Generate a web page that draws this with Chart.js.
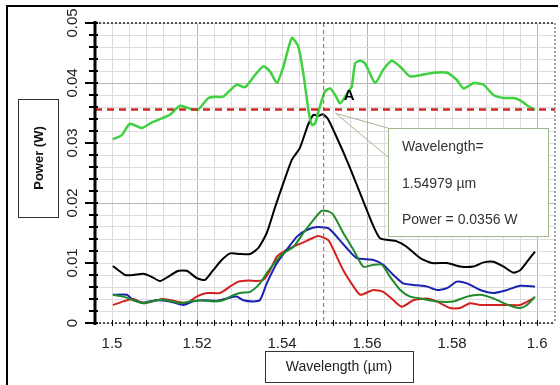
<!DOCTYPE html>
<html>
<head>
<meta charset="utf-8">
<script src="https://cdn.jsdelivr.net/npm/chart.js@4.4.0/dist/chart.umd.min.js"></script>
<style>
  html, body { margin: 0; padding: 0; background: #fff; }
  canvas { display: block; }
</style>
</head>
<body>
<canvas id="chart" width="560" height="385"></canvas>
<script>
// tick labels
const xLabels = [1.5, 1.52, 1.54, 1.56, 1.58, 1.6];
const yLabels = [0, 0.01, 0.02, 0.03, 0.04, 0.05];

// marked point (A)
const markWavelength = 1.54979;
const markPower = 0.0356;

// series: [wavelength (um), power (W)]
const greenSeries = [[1.5002,0.0306],[1.5023,0.0313],[1.5042,0.0332],[1.5070,0.0325],[1.5093,0.0334],[1.5117,0.0341],[1.5136,0.0347],[1.5160,0.0362],[1.5188,0.0356],[1.5203,0.0356],[1.5227,0.0375],[1.5246,0.0377],[1.5261,0.0377],[1.5293,0.0397],[1.5313,0.0393],[1.5336,0.0413],[1.5356,0.0428],[1.5372,0.0419],[1.5388,0.0400],[1.5403,0.0427],[1.5423,0.0475],[1.5438,0.0461],[1.5450,0.0416],[1.5462,0.0355],[1.5470,0.0330],[1.5478,0.0333],[1.5489,0.0361],[1.5501,0.0386],[1.5513,0.0391],[1.5525,0.0380],[1.5536,0.0366],[1.5544,0.0372],[1.5556,0.0386],[1.5564,0.0394],[1.5572,0.0433],[1.5584,0.0437],[1.5595,0.0433],[1.5619,0.0400],[1.5638,0.0422],[1.5658,0.0437],[1.5678,0.0427],[1.5701,0.0411],[1.5725,0.0413],[1.5756,0.0417],[1.5788,0.0417],[1.5811,0.0405],[1.5827,0.0391],[1.5851,0.0400],[1.5874,0.0397],[1.5897,0.0380],[1.5921,0.0375],[1.5944,0.0375],[1.5960,0.0371],[1.5976,0.0363],[1.5995,0.0355]];

const blackSeries = [[1.5002,0.0095],[1.5015,0.0088],[1.5031,0.0080],[1.5050,0.0080],[1.5074,0.0082],[1.5093,0.0077],[1.5113,0.0070],[1.5132,0.0077],[1.5156,0.0087],[1.5176,0.0087],[1.5199,0.0075],[1.5219,0.0072],[1.5238,0.0088],[1.5258,0.0105],[1.5278,0.0116],[1.5301,0.0115],[1.5325,0.0115],[1.5344,0.0125],[1.5364,0.0150],[1.5384,0.0194],[1.5403,0.0233],[1.5423,0.0272],[1.5442,0.0292],[1.5461,0.0330],[1.5474,0.0347],[1.5485,0.0345],[1.5496,0.0348],[1.5508,0.0340],[1.5525,0.0315],[1.5544,0.0285],[1.5560,0.0258],[1.5591,0.0203],[1.5615,0.0161],[1.5631,0.0141],[1.5670,0.0136],[1.5693,0.0127],[1.5725,0.0108],[1.5752,0.0100],[1.5788,0.0100],[1.5819,0.0094],[1.5850,0.0094],[1.5874,0.0101],[1.5897,0.0102],[1.5921,0.0094],[1.5944,0.0084],[1.5960,0.0088],[1.5976,0.0102],[1.5995,0.0119]];

const darkGreenSeries = [[1.5002,0.0047],[1.5027,0.0044],[1.5050,0.0038],[1.5074,0.0033],[1.5105,0.0038],[1.5129,0.0038],[1.5160,0.0033],[1.5184,0.0036],[1.5207,0.0038],[1.5238,0.0036],[1.5262,0.0038],[1.5278,0.0044],[1.5301,0.0050],[1.5325,0.0052],[1.5348,0.0066],[1.5364,0.0083],[1.5388,0.0105],[1.5403,0.0116],[1.5427,0.0127],[1.5450,0.0150],[1.5474,0.0172],[1.5493,0.0187],[1.5509,0.0186],[1.5521,0.0180],[1.5544,0.0150],[1.5568,0.0122],[1.5591,0.0094],[1.5615,0.0097],[1.5635,0.0097],[1.5654,0.0077],[1.5678,0.0055],[1.5701,0.0044],[1.5725,0.0041],[1.5764,0.0036],[1.5803,0.0036],[1.5835,0.0044],[1.5866,0.0047],[1.5897,0.0041],[1.5921,0.0033],[1.5944,0.0027],[1.5960,0.0025],[1.5976,0.0030],[1.5995,0.0044]];

const blueSeries = [[1.5002,0.0047],[1.5035,0.0047],[1.5050,0.0038],[1.5074,0.0034],[1.5105,0.0038],[1.5136,0.0036],[1.5168,0.0030],[1.5191,0.0036],[1.5215,0.0038],[1.5246,0.0037],[1.5270,0.0041],[1.5293,0.0044],[1.5309,0.0038],[1.5332,0.0036],[1.5348,0.0038],[1.5364,0.0066],[1.5388,0.0100],[1.5411,0.0122],[1.5435,0.0144],[1.5458,0.0155],[1.5482,0.0160],[1.5509,0.0158],[1.5521,0.0150],[1.5552,0.0125],[1.5576,0.0108],[1.5615,0.0105],[1.5638,0.0097],[1.5662,0.0080],[1.5685,0.0066],[1.5717,0.0063],[1.5740,0.0061],[1.5764,0.0055],[1.5788,0.0058],[1.5811,0.0069],[1.5835,0.0066],[1.5866,0.0055],[1.5897,0.0050],[1.5929,0.0055],[1.5960,0.0062],[1.5995,0.0061]];

const redSeries = [[1.5002,0.0030],[1.5027,0.0036],[1.5050,0.0040],[1.5074,0.0033],[1.5101,0.0037],[1.5121,0.0040],[1.5152,0.0036],[1.5176,0.0033],[1.5199,0.0044],[1.5223,0.0050],[1.5254,0.0050],[1.5278,0.0061],[1.5297,0.0069],[1.5321,0.0071],[1.5340,0.0070],[1.5356,0.0072],[1.5372,0.0088],[1.5388,0.0111],[1.5411,0.0122],[1.5435,0.0130],[1.5458,0.0137],[1.5485,0.0145],[1.5509,0.0138],[1.5521,0.0122],[1.5544,0.0088],[1.5568,0.0061],[1.5584,0.0047],[1.5615,0.0055],[1.5638,0.0052],[1.5662,0.0038],[1.5682,0.0027],[1.5709,0.0038],[1.5740,0.0041],[1.5764,0.0036],[1.5795,0.0025],[1.5819,0.0025],[1.5842,0.0033],[1.5866,0.0030],[1.5897,0.0030],[1.5929,0.0030],[1.5960,0.0030],[1.5991,0.0041]];

const FONT = "'Liberation Sans', Arial, sans-serif";

function toPoints(arr) {
  return arr.map(p => ({ x: p[0], y: p[1] }));
}

function line(data, color, width) {
  return {
    data: toPoints(data),
    borderColor: color,
    borderWidth: width,
    pointRadius: 0,
    tension: 0.2,
    fill: false
  };
}

function near(v, step, offset) {
  const r = (v - offset) / step;
  return Math.abs(r - Math.round(r)) < 1e-6;
}

// frame, axes, labels, marker lines and the callout
const decor = {
  id: 'decor',
  beforeDraw(chart) {
    const c = chart.ctx;
    c.save();
    c.fillStyle = '#fff';
    c.fillRect(0, 0, chart.width, chart.height);
    c.restore();
  },
  afterDatasetsDraw(chart) {
    const c = chart.ctx, a = chart.chartArea;
    const sx = chart.scales.x, sy = chart.scales.y;
    const px = sx.getPixelForValue(markWavelength);
    const py = sy.getPixelForValue(markPower);
    c.save();
    // vertical marker
    c.strokeStyle = '#b8504a';
    c.lineWidth = 1;
    c.setLineDash([4, 3]);
    c.beginPath(); c.moveTo(px, a.top); c.lineTo(px, a.bottom); c.stroke();
    // horizontal marker
    c.strokeStyle = '#d42626';
    c.lineWidth = 2.5;
    c.setLineDash([7, 5]);
    c.beginPath(); c.moveTo(a.left, py); c.lineTo(a.right, py); c.stroke();
    c.setLineDash([]);
    // A label
    c.fillStyle = '#000';
    c.font = 'bold 15px ' + FONT;
    c.textAlign = 'left';
    c.textBaseline = 'middle';
    c.fillText('A', px + 20, py - 14);
    // callout leaders
    c.strokeStyle = '#a9b894';
    c.lineWidth = 1;
    c.beginPath();
    c.moveTo(px + 12, py + 4); c.lineTo(388, 128);
    c.moveTo(px + 12, py + 4); c.lineTo(388, 157);
    c.stroke();
    // callout box
    c.fillStyle = '#fff';
    c.fillRect(388, 128, 160, 108);
    c.strokeStyle = '#9fb88a';
    c.strokeRect(388.5, 128.5, 160, 108);
    c.fillStyle = '#333';
    c.font = '14px ' + FONT;
    c.fillText('Wavelength=', 402, 147);
    c.fillText(markWavelength + ' \u00b5m', 402, 184);
    c.fillText('Power = ' + markPower + ' W', 402, 220);
    c.restore();
  },
  afterDraw(chart) {
    const c = chart.ctx, a = chart.chartArea;
    const sx = chart.scales.x, sy = chart.scales.y;
    c.save();
    // outer frame
    c.strokeStyle = '#000';
    c.lineWidth = 2;
    c.beginPath(); c.moveTo(7, 385); c.lineTo(7, 6); c.lineTo(558, 6); c.stroke();
    // dotted plot border
    c.lineWidth = 1.5;
    c.setLineDash([2, 2]);
    c.strokeStyle = '#222';
    c.beginPath(); c.moveTo(a.left, a.top); c.lineTo(a.right, a.top); c.stroke();
    c.beginPath(); c.moveTo(a.left, a.bottom); c.lineTo(a.right, a.bottom); c.stroke();
    c.strokeStyle = '#888';
    c.beginPath(); c.moveTo(a.right, a.top); c.lineTo(a.right, a.bottom); c.stroke();
    c.setLineDash([]);
    // x minor ticks
    c.strokeStyle = '#000';
    c.lineWidth = 1;
    sx.ticks.forEach(t => {
      const x = Math.round(sx.getPixelForValue(t.value)) + 0.5;
      c.beginPath(); c.moveTo(x, a.bottom - 3); c.lineTo(x, a.bottom + 3); c.stroke();
    });
    // y axis line and ticks
    c.lineWidth = 3;
    c.beginPath(); c.moveTo(a.left, a.top - 2); c.lineTo(a.left, a.bottom + 2); c.stroke();
    c.lineWidth = 2;
    sy.ticks.forEach(t => {
      const y = sy.getPixelForValue(t.value);
      const major = near(t.value, 0.01, 0);
      c.beginPath(); c.moveTo(a.left - (major ? 10 : 6), y); c.lineTo(a.left + 3, y); c.stroke();
    });
    // y tick labels (rotated)
    c.fillStyle = '#222';
    c.font = '15px ' + FONT;
    c.textAlign = 'center';
    c.textBaseline = 'middle';
    yLabels.forEach(v => {
      c.save();
      c.translate(73, sy.getPixelForValue(v));
      c.rotate(-Math.PI / 2);
      c.fillText(String(v), 0, 0);
      c.restore();
    });
    // axis title boxes
    c.strokeStyle = '#333';
    c.lineWidth = 1;
    c.strokeRect(18.5, 99.5, 40, 118);
    c.save();
    c.translate(39, 158);
    c.rotate(-Math.PI / 2);
    c.fillStyle = '#111';
    c.font = 'bold 13px ' + FONT;
    c.fillText('Power (W)', 0, 0);
    c.restore();
    c.strokeRect(265.5, 351.5, 148, 31);
    c.fillStyle = '#222';
    c.font = '14px ' + FONT;
    c.fillText('Wavelength (\u00b5m)', 339, 367);
    c.restore();
  }
};

new Chart(document.getElementById('chart'), {
  type: 'scatter',
  data: {
    datasets: [
      line(greenSeries, '#3fd13f', 2.5),
      line(blackSeries, '#000000', 2),
      line(darkGreenSeries, '#1f8a2a', 2),
      line(blueSeries, '#1c22b0', 2),
      line(redSeries, '#d42020', 2)
    ]
  },
  options: {
    responsive: false,
    animation: false,
    showLine: true,
    layout: { padding: { left: 0, top: 23, right: 5, bottom: 0 } },
    plugins: {
      legend: { display: false },
      tooltip: { enabled: false }
    },
    scales: {
      x: {
        type: 'linear',
        min: 1.496,
        max: 1.6042,
        afterFit: s => { s.height = 62; },
        afterBuildTicks: s => {
          const ticks = [];
          for (let i = 0; i <= 25; i++) ticks.push({ value: Math.round((1.5 + i * 0.004) * 1e4) / 1e4 });
          s.ticks = ticks;
        },
        border: { display: false },
        grid: {
          drawTicks: false,
          lineWidth: 1,
          color: ctx => (ctx.tick && near(ctx.tick.value, 0.04, 1.52)) ? '#b5b5b5' : '#dcdcdc'
        },
        ticks: {
          autoSkip: false,
          maxRotation: 0,
          padding: 12,
          color: '#222',
          font: { family: FONT, size: 15 },
          callback: v => xLabels.some(l => Math.abs(l - v) < 1e-9) ? String(+v.toFixed(2)) : ''
        }
      },
      y: {
        type: 'linear',
        min: 0,
        max: 0.05,
        afterFit: s => { s.width = 95; },
        afterBuildTicks: s => {
          const ticks = [];
          for (let i = 0; i <= 25; i++) ticks.push({ value: Math.round(i * 0.002 * 1e4) / 1e4 });
          s.ticks = ticks;
        },
        border: { display: false },
        grid: {
          drawTicks: false,
          lineWidth: 1,
          color: ctx => (ctx.tick && ctx.tick.value > 0 && near(ctx.tick.value, 0.02, 0)) ? '#b5b5b5' : '#dcdcdc'
        },
        ticks: { display: false }
      }
    }
  },
  plugins: [decor]
});
</script>
</body>
</html>
